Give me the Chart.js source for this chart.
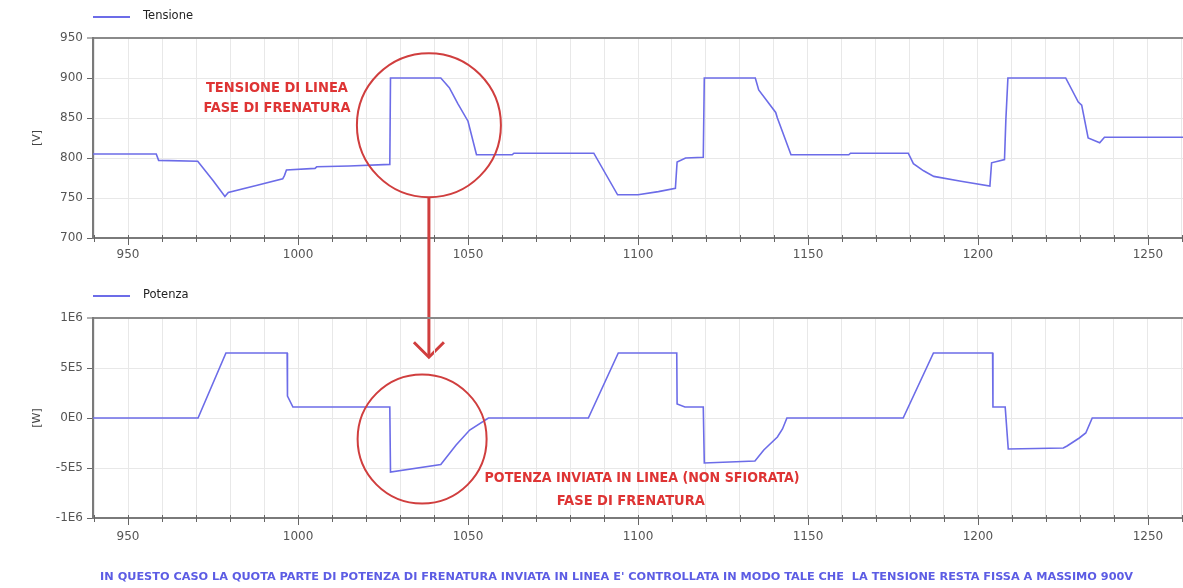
<!DOCTYPE html>
<html>
<head>
<meta charset="utf-8">
<script src="https://cdn.jsdelivr.net/npm/chart.js@4.4.1/dist/chart.umd.min.js"></script>
<style>
  html, body { margin: 0; padding: 0; background: #fff; }
  #wrap { position: relative; width: 1183px; height: 588px; overflow: hidden; }
  #wrap canvas { position: absolute; left: 0; top: 0; }
</style>
</head>
<body>
<div id="wrap">
  <canvas id="chartTensione" width="1183" height="588"></canvas>
  <canvas id="chartPotenza" width="1183" height="588"></canvas>
</div>
<script>
// ---- data: time [s] ----
const timeRange = [939.7, 1260.3];
const timeTickStep = 10;
const timeLabelStep = 50;

// Line voltage [V]
const tensioneT = [939.7, 958.3, 959.0, 970.5, 975.0, 978.5, 979.5, 988.0, 995.5, 996.0, 996.6, 1005.0, 1005.5, 1015.0, 1027.0,
  1027.2, 1042.0, 1044.5, 1047.0, 1050.0, 1052.5, 1063.0, 1063.5, 1087.0, 1094.0, 1100.0, 1106.0, 1111.0, 1111.5, 1114.0,
  1119.2, 1119.5, 1134.5, 1135.5, 1140.5, 1141.0, 1145.0, 1162.0, 1162.5, 1179.5, 1181.0, 1184.0, 1187.0, 1195.0, 1203.5,
  1204.0, 1207.8, 1208.2, 1208.8, 1225.8, 1229.5, 1230.5, 1232.4, 1235.8, 1237.2, 1260.3];
const tensioneV = [805, 805, 797, 796, 772, 752, 757, 766, 774, 778, 785, 787, 789, 790, 792,
  900, 900, 888, 868, 846, 804, 804, 806, 806, 754, 754, 758, 762, 795, 800,
  801, 900, 900, 885, 857, 850, 804, 804, 806, 806, 793, 784, 777, 771, 765,
  794, 798, 848, 900, 900, 870, 866, 825, 819, 826, 826];
const tensioneTicks = { min: 700, max: 950, step: 50 };

// Power sent to the line [W]
const potenzaT = [939.7, 970.6, 978.8, 996.8, 996.9, 998.5, 1027.0, 1027.2, 1042.0, 1046.5, 1050.5, 1056.0,
  1085.4, 1094.2, 1111.4, 1111.5, 1113.8, 1119.2, 1119.5, 1134.4, 1137.0, 1141.0, 1142.5, 1143.8,
  1178.0, 1186.9, 1204.3, 1204.4, 1208.0, 1208.9, 1225.1, 1226.2, 1229.8, 1231.7, 1233.6, 1260.3];
const potenzaW = [0, 0, 650000, 650000, 220000, 110000, 110000, -540000, -465000, -270000, -120000, 0,
  0, 650000, 650000, 140000, 110000, 110000, -450000, -430000, -320000, -190000, -110000, 0,
  0, 650000, 650000, 110000, 110000, -310000, -300000, -280000, -200000, -150000, 0, 0];
const potenzaTicks = { min: -1000000, max: 1000000, step: 500000 };

// ---- texts ----
const legendTensione = 'Tensione';
const legendPotenza = 'Potenza';
const unitTensione = '[V]';
const unitPotenza = '[W]';
const noteTensione = ['TENSIONE DI LINEA', 'FASE DI FRENATURA'];
const notePotenza = ['POTENZA INVIATA IN LINEA (NON SFIORATA)', 'FASE DI FRENATURA'];
const caption = "IN QUESTO CASO LA QUOTA PARTE DI POTENZA DI FRENATURA INVIATA IN LINEA E' CONTROLLATA IN MODO TALE CHE  LA TENSIONE RESTA FISSA A MASSIMO 900V";

// ---- styles ----
const seriesColor = 'rgb(108,108,232)';
const noteColor = 'rgb(222,52,52)';
const circleColor = 'rgb(208,62,62)';
const captionColor = 'rgb(92,92,228)';
const gridColor = '#e8e8e8';
const axisColor = '#7a7a7a';
const tickFont = { family: "'DejaVu Sans', sans-serif", size: 12 };
const noteFont = "bold 14px 'Liberation Sans Narrow', 'DejaVu Sans Condensed', 'Liberation Sans', sans-serif";

Chart.defaults.font.family = "'DejaVu Sans', sans-serif";

function sciLabel(v) {
  if (v === 0) return '0E0';
  const e = Math.floor(Math.log10(Math.abs(v)) + 1e-9);
  const m = Math.round(v / Math.pow(10, e));
  return m + 'E' + e;
}

// draws text centered at (cx, cy), stretched horizontally to a given width
function stretchText(ctx, text, cx, cy, width) {
  const w = ctx.measureText(text).width;
  ctx.save();
  ctx.translate(cx, cy);
  ctx.scale(width / w, 1);
  ctx.textAlign = 'center';
  ctx.textBaseline = 'middle';
  ctx.fillText(text, 0, 0);
  ctx.restore();
}

// small crossing tick marks on the time axis, longer ones where labelled
const timeTickMarks = {
  id: 'timeTickMarks',
  afterDraw(chart) {
    const { ctx, chartArea } = chart;
    const x = chart.scales.x;
    ctx.save();
    ctx.strokeStyle = '#666';
    ctx.lineWidth = 1;
    x.ticks.forEach(t => {
      const px = Math.round(x.getPixelForValue(t.value)) + 0.5;
      const major = Math.abs(t.value % timeLabelStep) < 1e-6;
      ctx.beginPath();
      ctx.moveTo(px, chartArea.bottom - 3);
      ctx.lineTo(px, chartArea.bottom + (major ? 7 : 4));
      ctx.stroke();
    });
    ctx.restore();
  }
};

// line-sample legend placed above the plot's left edge
const lineLegend = {
  id: 'lineLegend',
  afterDraw(chart, args, opts) {
    const { ctx, chartArea } = chart;
    const ds = chart.data.datasets[0];
    const y = chartArea.top - opts.offset;
    const x0 = chartArea.left;
    ctx.save();
    ctx.strokeStyle = ds.borderColor;
    ctx.lineWidth = 2;
    ctx.beginPath();
    ctx.moveTo(x0, y + 0.5);
    ctx.lineTo(x0 + 37, y + 0.5);
    ctx.stroke();
    ctx.fillStyle = '#222';
    ctx.font = "11.5px 'DejaVu Sans', sans-serif";
    ctx.textBaseline = 'middle';
    ctx.fillText(ds.label, x0 + 50, y);
    ctx.restore();
  }
};

// red circle, arrow and notes anchored on the data scales
const callouts = {
  id: 'callouts',
  afterDraw(chart, args, opts) {
    const { ctx } = chart;
    const x = chart.scales.x, y = chart.scales.y;
    ctx.save();
    if (opts.circle) {
      const c = opts.circle;
      const cx = x.getPixelForValue(c.x), cy = y.getPixelForValue(c.y);
      ctx.strokeStyle = circleColor;
      ctx.lineWidth = 2;
      ctx.beginPath();
      ctx.arc(cx, cy, c.r, 0, Math.PI * 2);
      ctx.stroke();
      if (opts.arrow) {
        const y0 = cy + c.r, y1 = y0 + opts.arrow.length;
        ctx.lineWidth = 3;
        ctx.beginPath();
        ctx.moveTo(cx, y0);
        ctx.lineTo(cx, y1 - 2);
        ctx.stroke();
        ctx.lineJoin = 'miter';
        ctx.beginPath();
        ctx.moveTo(cx - 15, y1 - 15);
        ctx.lineTo(cx, y1);
        ctx.lineTo(cx + 15, y1 - 15);
        ctx.stroke();
      }
    }
    ctx.fillStyle = noteColor;
    ctx.font = noteFont;
    (opts.notes || []).forEach(n => {
      stretchText(ctx, n.text, x.getPixelForValue(n.x), y.getPixelForValue(n.y), n.width);
    });
    if (opts.caption) {
      const c = opts.caption;
      ctx.fillStyle = captionColor;
      ctx.font = "bold 11px 'Liberation Sans Narrow', 'DejaVu Sans Condensed', 'Liberation Sans', sans-serif";
      stretchText(ctx, c.text, x.getPixelForValue(c.x), chart.chartArea.bottom + c.dy, c.width);
    }
    ctx.restore();
  }
};

function buildChart(canvasId, cfg) {
  const points = cfg.t.map((t, i) => ({ x: t, y: cfg.v[i] }));
  return new Chart(document.getElementById(canvasId), {
    type: 'line',
    data: {
      datasets: [{
        label: cfg.label,
        data: points,
        borderColor: seriesColor,
        borderWidth: 1.6,
        pointRadius: 0,
        tension: 0,
        fill: false
      }]
    },
    options: {
      responsive: false,
      animation: false,
      events: [],
      layout: { padding: cfg.padding },
      plugins: {
        legend: { display: false },
        tooltip: { enabled: false },
        lineLegend: { offset: cfg.legendOffset },
        callouts: cfg.callouts
      },
      scales: {
        x: {
          type: 'linear',
          min: timeRange[0],
          max: timeRange[1],
          afterFit(scale) {
            scale.height = 30;
            scale.paddingLeft = 0;
            scale.paddingRight = 0;
          },
          border: { display: true, color: axisColor, width: 2 },
          grid: { color: gridColor, lineWidth: 1, drawTicks: false },
          ticks: {
            stepSize: timeTickStep,
            includeBounds: false,
            autoSkip: false,
            maxRotation: 0,
            padding: cfg.xLabelPad,
            color: '#555',
            font: tickFont,
            callback: v => (Math.abs(v % timeLabelStep) < 1e-6 ? String(v) : '')
          }
        },
        y: {
          type: 'linear',
          min: cfg.yTicks.min,
          max: cfg.yTicks.max,
          afterFit(scale) {
            scale.width = 93;
            scale.paddingTop = 0;
            scale.paddingBottom = 0;
          },
          border: { display: true, color: axisColor, width: 2 },
          grid: {
            color: ctx => (ctx.tick && ctx.tick.value === cfg.yTicks.max ? '#8a8a8a' : gridColor),
            lineWidth: ctx => (ctx.tick && ctx.tick.value === cfg.yTicks.max ? 2 : 1),
            drawTicks: true,
            tickLength: 6,
            tickColor: '#666',
            tickWidth: 1
          },
          ticks: {
            stepSize: cfg.yTicks.step,
            padding: 4,
            color: '#555',
            font: tickFont,
            callback: cfg.yFormat
          },
          title: {
            display: true,
            text: cfg.unit,
            color: '#444',
            font: { size: 11 },
            padding: { top: 31, bottom: 0 }
          }
        }
      }
    },
    plugins: [timeTickMarks, lineLegend, callouts]
  });
}

buildChart('chartTensione', {
  t: tensioneT, v: tensioneV, label: legendTensione, unit: unitTensione,
  yTicks: tensioneTicks, yFormat: v => String(v),
  padding: { top: 38, bottom: 320, left: 0, right: 0 },
  legendOffset: 21.5, xLabelPad: 10,
  callouts: {
    circle: { x: 1038.5, y: 841, r: 72 },
    arrow: { length: 160 },
    notes: [
      { text: noteTensione[0], x: 993.8, y: 887.5, width: 142 },
      { text: noteTensione[1], x: 993.8, y: 862.5, width: 147 }
    ]
  }
});

buildChart('chartPotenza', {
  t: potenzaT, v: potenzaW, label: legendPotenza, unit: unitPotenza,
  yTicks: potenzaTicks, yFormat: v => sciLabel(v),
  padding: { top: 318, bottom: 40, left: 0, right: 0 },
  legendOffset: 22.5, xLabelPad: 12,
  callouts: {
    circle: { x: 1036.5, y: -210000, r: 64.5 },
    notes: [
      { text: notePotenza[0], x: 1101.2, y: -600000, width: 315 },
      { text: notePotenza[1], x: 1097.9, y: -830000, width: 148 }
    ],
    caption: { text: caption, x: 1093.7, dy: 59, width: 1033 }
  }
});
</script>
</body>
</html>
